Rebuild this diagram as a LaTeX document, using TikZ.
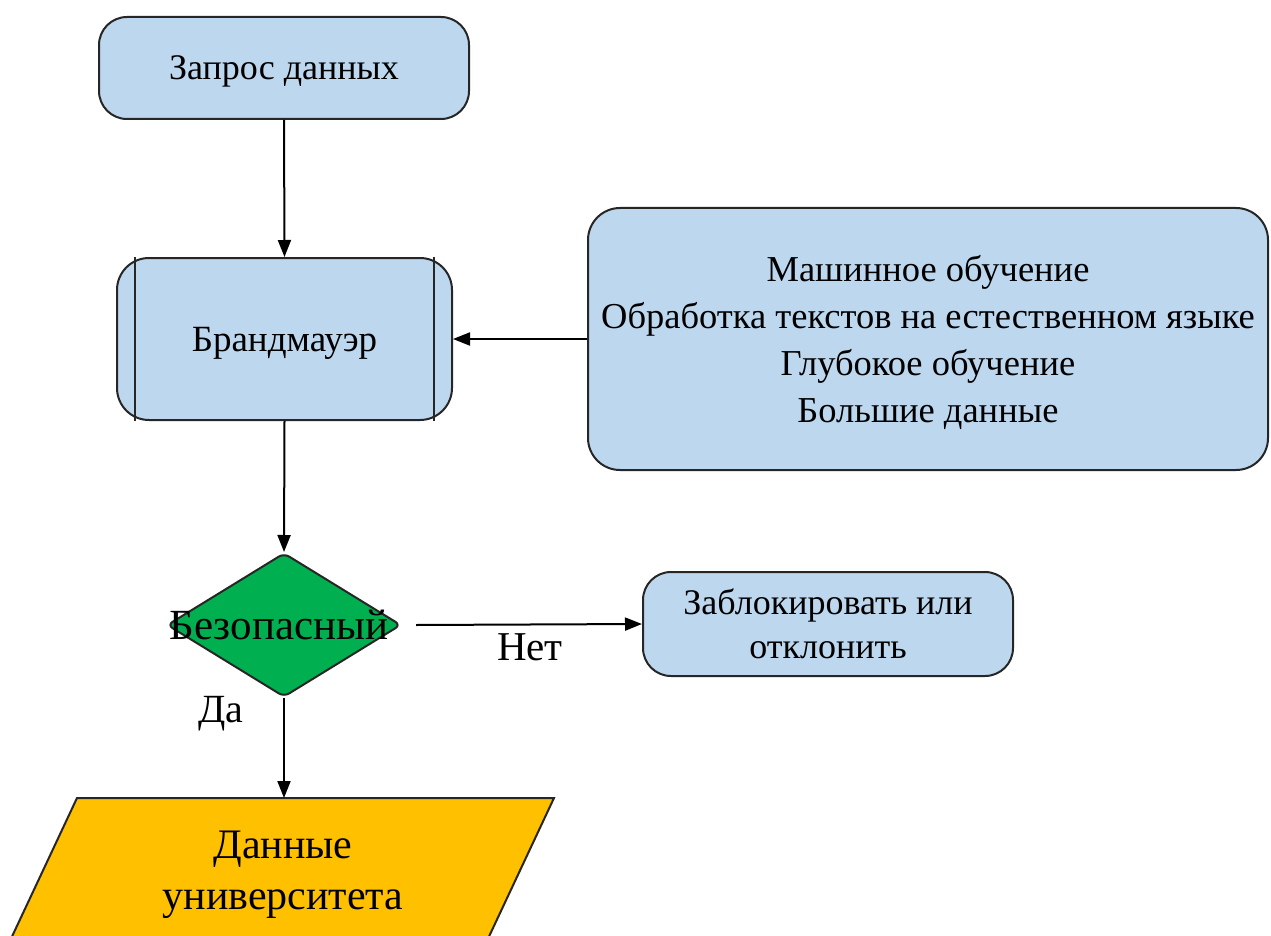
\documentclass[tikz,border=0pt]{standalone}
\usepackage{fontspec}
\setmainfont{Liberation Serif}
\usetikzlibrary{arrows.meta,shapes.geometric}
\definecolor{boxblue}{HTML}{BDD7EE}
\definecolor{decgreen}{HTML}{00B050}
\definecolor{dataorange}{HTML}{FFC000}
\definecolor{edgecol}{HTML}{262626}
\begin{document}
\begin{tikzpicture}[x=1pt,y=-1pt,
  txt/.style={font=\fontsize{36}{47}\selectfont, align=center},
  bluebox/.style={txt, draw=edgecol, line width=2pt, fill=boxblue, rounded corners=28pt, inner sep=0pt, text depth=0pt},
  arr/.style={-{Triangle[length=17pt,width=13pt]}, line width=2pt, draw=black},
  rule/.style={draw=edgecol, line width=2pt}
]
\clip (0,0) rectangle (1271,936);
\fill[white] (0,0) rectangle (1271,936);

\node[bluebox, minimum width=370pt, minimum height=102pt] (req) at (284,68) {Запрос данных};

\node[bluebox, minimum width=335pt, minimum height=162pt, rounded corners=32pt, font=\fontsize{37}{47}\selectfont] (fw) at (284.5,339) {Брандмауэр};
\draw[rule] ([xshift=19pt]fw.north west) -- ([xshift=19pt]fw.south west);
\draw[rule] ([xshift=-19pt]fw.north east) -- ([xshift=-19pt]fw.south east);

\node[bluebox, minimum width=680pt, minimum height=262pt, rounded corners=32pt, font=\fontsize{36.5}{47}\selectfont] (ml) at (928,339)
  {Машинное обучение\\Обработка текстов на естественном языке\\Глубокое обучение\\Большие данные};

\node[diamond, draw=edgecol, line width=2pt, fill=decgreen, minimum width=234pt, minimum height=144pt, inner sep=0pt, rounded corners=6pt] (dec) at (284,625) {};
\node[txt, font=\fontsize{43}{47}\selectfont] (decl) at ([xshift=-5pt]dec.center) {Безопасный};

\node[bluebox, minimum width=370pt, minimum height=104pt, rounded corners=28pt, font=\fontsize{36}{44}\selectfont] (rej) at (828,624) {Заблокировать или\\отклонить};

\coordinate (noStart) at ([xshift=14pt]dec.east);

\draw[rule, fill=dataorange] (77,798) -- (554,798) -- (478,960) -- (1,960) -- cycle;
\coordinate (datatop) at (284,798);
\node[txt, font=\fontsize{42}{51}\selectfont] (data) at (283,875) {Данные\\университета};

\draw[arr] (req.south) -- (fw.north);
\draw[arr] (ml.west) -- (fw.east);
\draw[arr] (fw.south) -- (dec.north);
\draw[arr] (noStart) -- (rej.west);
\draw[arr] (dec.south) -- (datatop);

\node[txt, font=\fontsize{41}{47}\selectfont] (no) at (530,647) {Нет};
\node[txt, font=\fontsize{40}{47}\selectfont] (yes) at (221,714) {Да};
\end{tikzpicture}
\end{document}
